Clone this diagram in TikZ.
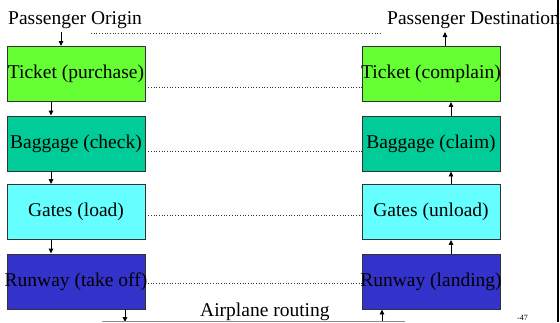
\documentclass[tikz,border=0pt]{standalone}
\usepackage{fontspec}
\setmainfont{Liberation Serif}
\usetikzlibrary{arrows.meta}
\definecolor{cticket}{HTML}{66FF33}
\definecolor{cbag}{HTML}{00CC99}
\definecolor{cgate}{HTML}{66FFFF}
\definecolor{crun}{HTML}{3333CC}
\tikzset{
  layerbox/.style={draw=black!80, line width=0.9pt, minimum width=138pt, minimum height=55pt, inner sep=0pt},
  txt/.style={font=\fontsize{19.5}{22}\selectfont, inner sep=0pt},
  flow/.style={line width=0.9pt, -{Triangle[length=5pt,width=4.5pt]}},
  peer/.style={line width=0.7pt, dotted, black!80},
}
\begin{document}
\begin{tikzpicture}[x=1pt,y=-1pt]
\useasboundingbox (0,0) rectangle (560,322);
% left stack
\node[layerbox, fill=cticket, label={[txt]center:Ticket (purchase)}] (lt) at (76,74) {};
\node[layerbox, fill=cbag, label={[txt]center:Baggage (check)}] (lb) at (76,143.5) {};
\node[layerbox, fill=cgate, label={[txt]center:Gates (load)}] (lg) at (76,212) {};
\node[layerbox, fill=crun, label={[txt]center:Runway (take off)}] (lr) at (76,281.5) {};
% right stack
\node[layerbox, fill=cticket, label={[txt]center:Ticket (complain)}] (rt) at (431,74) {};
\node[layerbox, fill=cbag, label={[txt]center:Baggage (claim)}] (rb) at (431,143.5) {};
\node[layerbox, fill=cgate, label={[txt]center:Gates (unload)}] (rg) at (431,212) {};
\node[layerbox, fill=crun, label={[txt]center:Runway (landing)}] (rr) at (431,281.5) {};
% titles
\node[txt, anchor=base west] (po) at (8,24) {Passenger Origin};
\node[txt, anchor=base west] (pd) at (387,24) {Passenger Destination};
\node[txt, anchor=base west] (ar) at (200,316.5) {Airplane routing};
\node[font=\fontsize{8}{9}\selectfont, inner sep=0pt, anchor=base west] (pg) at (517,320) {-47};
% coordinates
\coordinate (od1) at (91,33);
\coordinate (od2) at (381,33);
\coordinate (lbot) at (125,322);
\coordinate (rbot) at (382,322);
\coordinate (g1) at (102,321.5);
\coordinate (g2) at (405,321.5);
\coordinate (bar1) at (558,0);
\coordinate (bar2) at (558,322);
% dotted peer lines
\draw[peer] (od1) -- (od2);
\draw[peer] (lt.east |- 0,87) -- (rt.west |- 0,87);
\draw[peer] (lb.east |- 0,151) -- (rb.west |- 0,151);
\draw[peer] (lg.east |- 0,215) -- (rg.west |- 0,215);
\draw[peer] (148,283) -- (rr.west |- 0,283);
% flow arrows left (down)
\draw[flow] (61,32) -- (lt.north -| 61,0);
\draw[flow] (lt.south -| 51,0) -- (lb.north -| 51,0);
\draw[flow] (lb.south -| 51,0) -- (lg.north -| 51,0);
\draw[flow] (lg.south -| 51,0) -- (lr.north -| 51,0);
\draw[flow] (lr.south -| lbot) -- (lbot);
% flow arrows right (up)
\draw[flow] (rbot) -- (rr.south -| rbot);
\draw[flow] (rr.north -| 451,0) -- (rg.south -| 451,0);
\draw[flow] (rg.north -| 451,0) -- (rb.south -| 451,0);
\draw[flow] (rb.north -| 451,0) -- (rt.south -| 451,0);
\draw[flow] (rt.north -| 445,0) -- (445,32);
% bottom line and right bar
\draw[black!45, line width=1pt] (g1) -- (g2);
\draw[black, line width=2.5pt] (bar1) -- (bar2);
\end{tikzpicture}
\end{document}
